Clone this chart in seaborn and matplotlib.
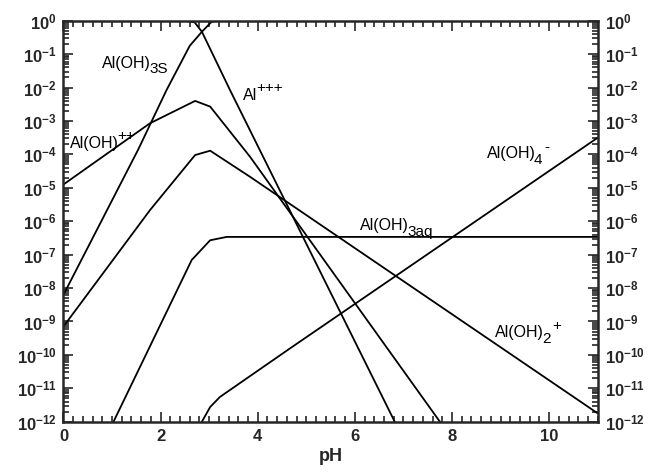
import numpy as np
import pandas as pd
import matplotlib
matplotlib.use("Agg")
import matplotlib.pyplot as plt
import matplotlib.ticker as mticker
from matplotlib.transforms import offset_copy
import seaborn as sns

# ---- data (pH, log10 of activity) ----
ph_al3 = [0.0, 2.5, 2.7, 2.85, 3.43, 6.82]
lg_al3 = [0.0, 0.0, -0.05, -0.33, -2.08, -12.0]

ph_al3s = [0.0, 1.54, 2.12, 2.6, 2.85, 3.05, 3.2, 11.0]
lg_al3s = [-8.2, -3.85, -2.08, -0.75, -0.33, -0.03, 0.0, 0.0]

ph_aloh = [0.0, 1.78, 2.71, 3.02, 3.84, 7.75]
lg_aloh = [-4.9, -3.07, -2.40, -2.57, -4.07, -12.0]

ph_aloh2 = [0.0, 1.78, 2.71, 3.02, 3.84, 11.0]
lg_aloh2 = [-9.15, -5.67, -4.02, -3.89, -4.67, -11.75]

ph_aloh3 = [1.03, 2.64, 3.02, 3.36, 11.0]
lg_aloh3 = [-12.0, -7.16, -6.57, -6.47, -6.47]

ph_aloh4 = [2.85, 3.02, 3.22, 4.66, 11.0]
lg_aloh4 = [-12.0, -11.56, -11.26, -9.81, -3.5]

species = ["Al+++", "Al(OH)3S", "Al(OH)++", "Al(OH)2+", "Al(OH)3aq", "Al(OH)4-"]
series = [(ph_al3, lg_al3), (ph_al3s, lg_al3s), (ph_aloh, lg_aloh),
          (ph_aloh2, lg_aloh2), (ph_aloh3, lg_aloh3), (ph_aloh4, lg_aloh4)]

# label pieces: (text, kind) with kind n=normal, b=subscript, p=superscript
label_parts = [
    [("Al", "n"), ("+++", "p")],
    [("Al(OH)", "n"), ("3S", "b")],
    [("Al(OH)", "n"), ("++", "p")],
    [("Al(OH)", "n"), ("2", "b"), ("+", "p")],
    [("Al(OH)", "n"), ("3aq", "b")],
    [("Al(OH)", "n"), ("4", "b"), ("-", "p")],
]
label_ph = [3.70, 0.79, 0.13, 8.89, 6.10, 8.71]
label_lg = [-2.37, -1.41, -3.81, -9.48, -6.27, -4.12]

x_ticks = [0, 2, 4, 6, 8, 10]
y_exps = list(range(-12, 1))

rows = []
for name, (p, l) in zip(species, series):
    for a, b in zip(p, l):
        rows.append({"species": name, "pH": a, "conc": 10.0 ** b})
df = pd.DataFrame(rows)

sns.set_style("ticks")
plt.rcParams["font.family"] = ["Liberation Sans", "DejaVu Sans"]
plt.rcParams["mathtext.fontset"] = "custom"
plt.rcParams["mathtext.rm"] = "Liberation Sans"
plt.rcParams["mathtext.it"] = "Liberation Sans:italic"
plt.rcParams["mathtext.bf"] = "Liberation Sans:bold"

fig = plt.figure(figsize=(6.58, 4.75), dpi=100)
ax = fig.add_axes([0.0965, 0.1122, 0.8119, 0.8442])

sns.lineplot(data=df, x="pH", y="conc", units="species", estimator=None,
             sort=False, color="black", linewidth=1.3, ax=ax, legend=False)

ax.set_yscale("log")
ax.set_xlim(0, 11)
ax.set_ylim(1e-12, 1)

ax.set_xticks(x_ticks)
ax.xaxis.set_minor_locator(mticker.MultipleLocator(0.2))
ax.set_xticklabels([str(v) for v in x_ticks], fontweight="bold")
ax.yaxis.set_major_locator(mticker.FixedLocator([10.0 ** e for e in y_exps]))
ax.yaxis.set_minor_locator(mticker.LogLocator(base=10, subs=np.arange(2, 10), numticks=100))
ax.yaxis.set_minor_formatter(mticker.NullFormatter())
ax.yaxis.set_major_formatter(mticker.FuncFormatter(
    lambda v, pos: r"$\mathbf{10^{%d}}$" % int(round(np.log10(v)))))

ax.tick_params(axis="both", which="both", direction="in", top=True, right=True,
               labelright=True, width=1.2)
ax.tick_params(axis="both", which="major", length=7, labelsize=12, pad=5)
ax.tick_params(axis="both", which="minor", length=4)
for s in ax.spines.values():
    s.set_linewidth(1.8)

ax.set_xlabel("pH", fontsize=13, fontweight="bold", labelpad=3)
ax.set_ylabel("")

renderer = fig.canvas.get_renderer()
offsets = {"n": 0.0, "b": -4.0, "p": 5.5}
sizes = {"n": 11.5, "b": 11.0, "p": 11.0}
adjust = {"n": -1.0, "b": 1.0, "p": 0.0}
for parts, x, y in zip(label_parts, label_ph, label_lg):
    dx = 0.0
    for s, kind in parts:
        tr = offset_copy(ax.transData, fig=fig, x=dx, y=offsets[kind], units="points")
        t = ax.text(x, 10.0 ** y, s, transform=tr, fontsize=sizes[kind],
                    ha="left", va="baseline", color="black")
        w = t.get_window_extent(renderer=renderer).width * 72.0 / fig.dpi
        dx += w + adjust[kind]

fig.savefig("out.png", dpi=100)
